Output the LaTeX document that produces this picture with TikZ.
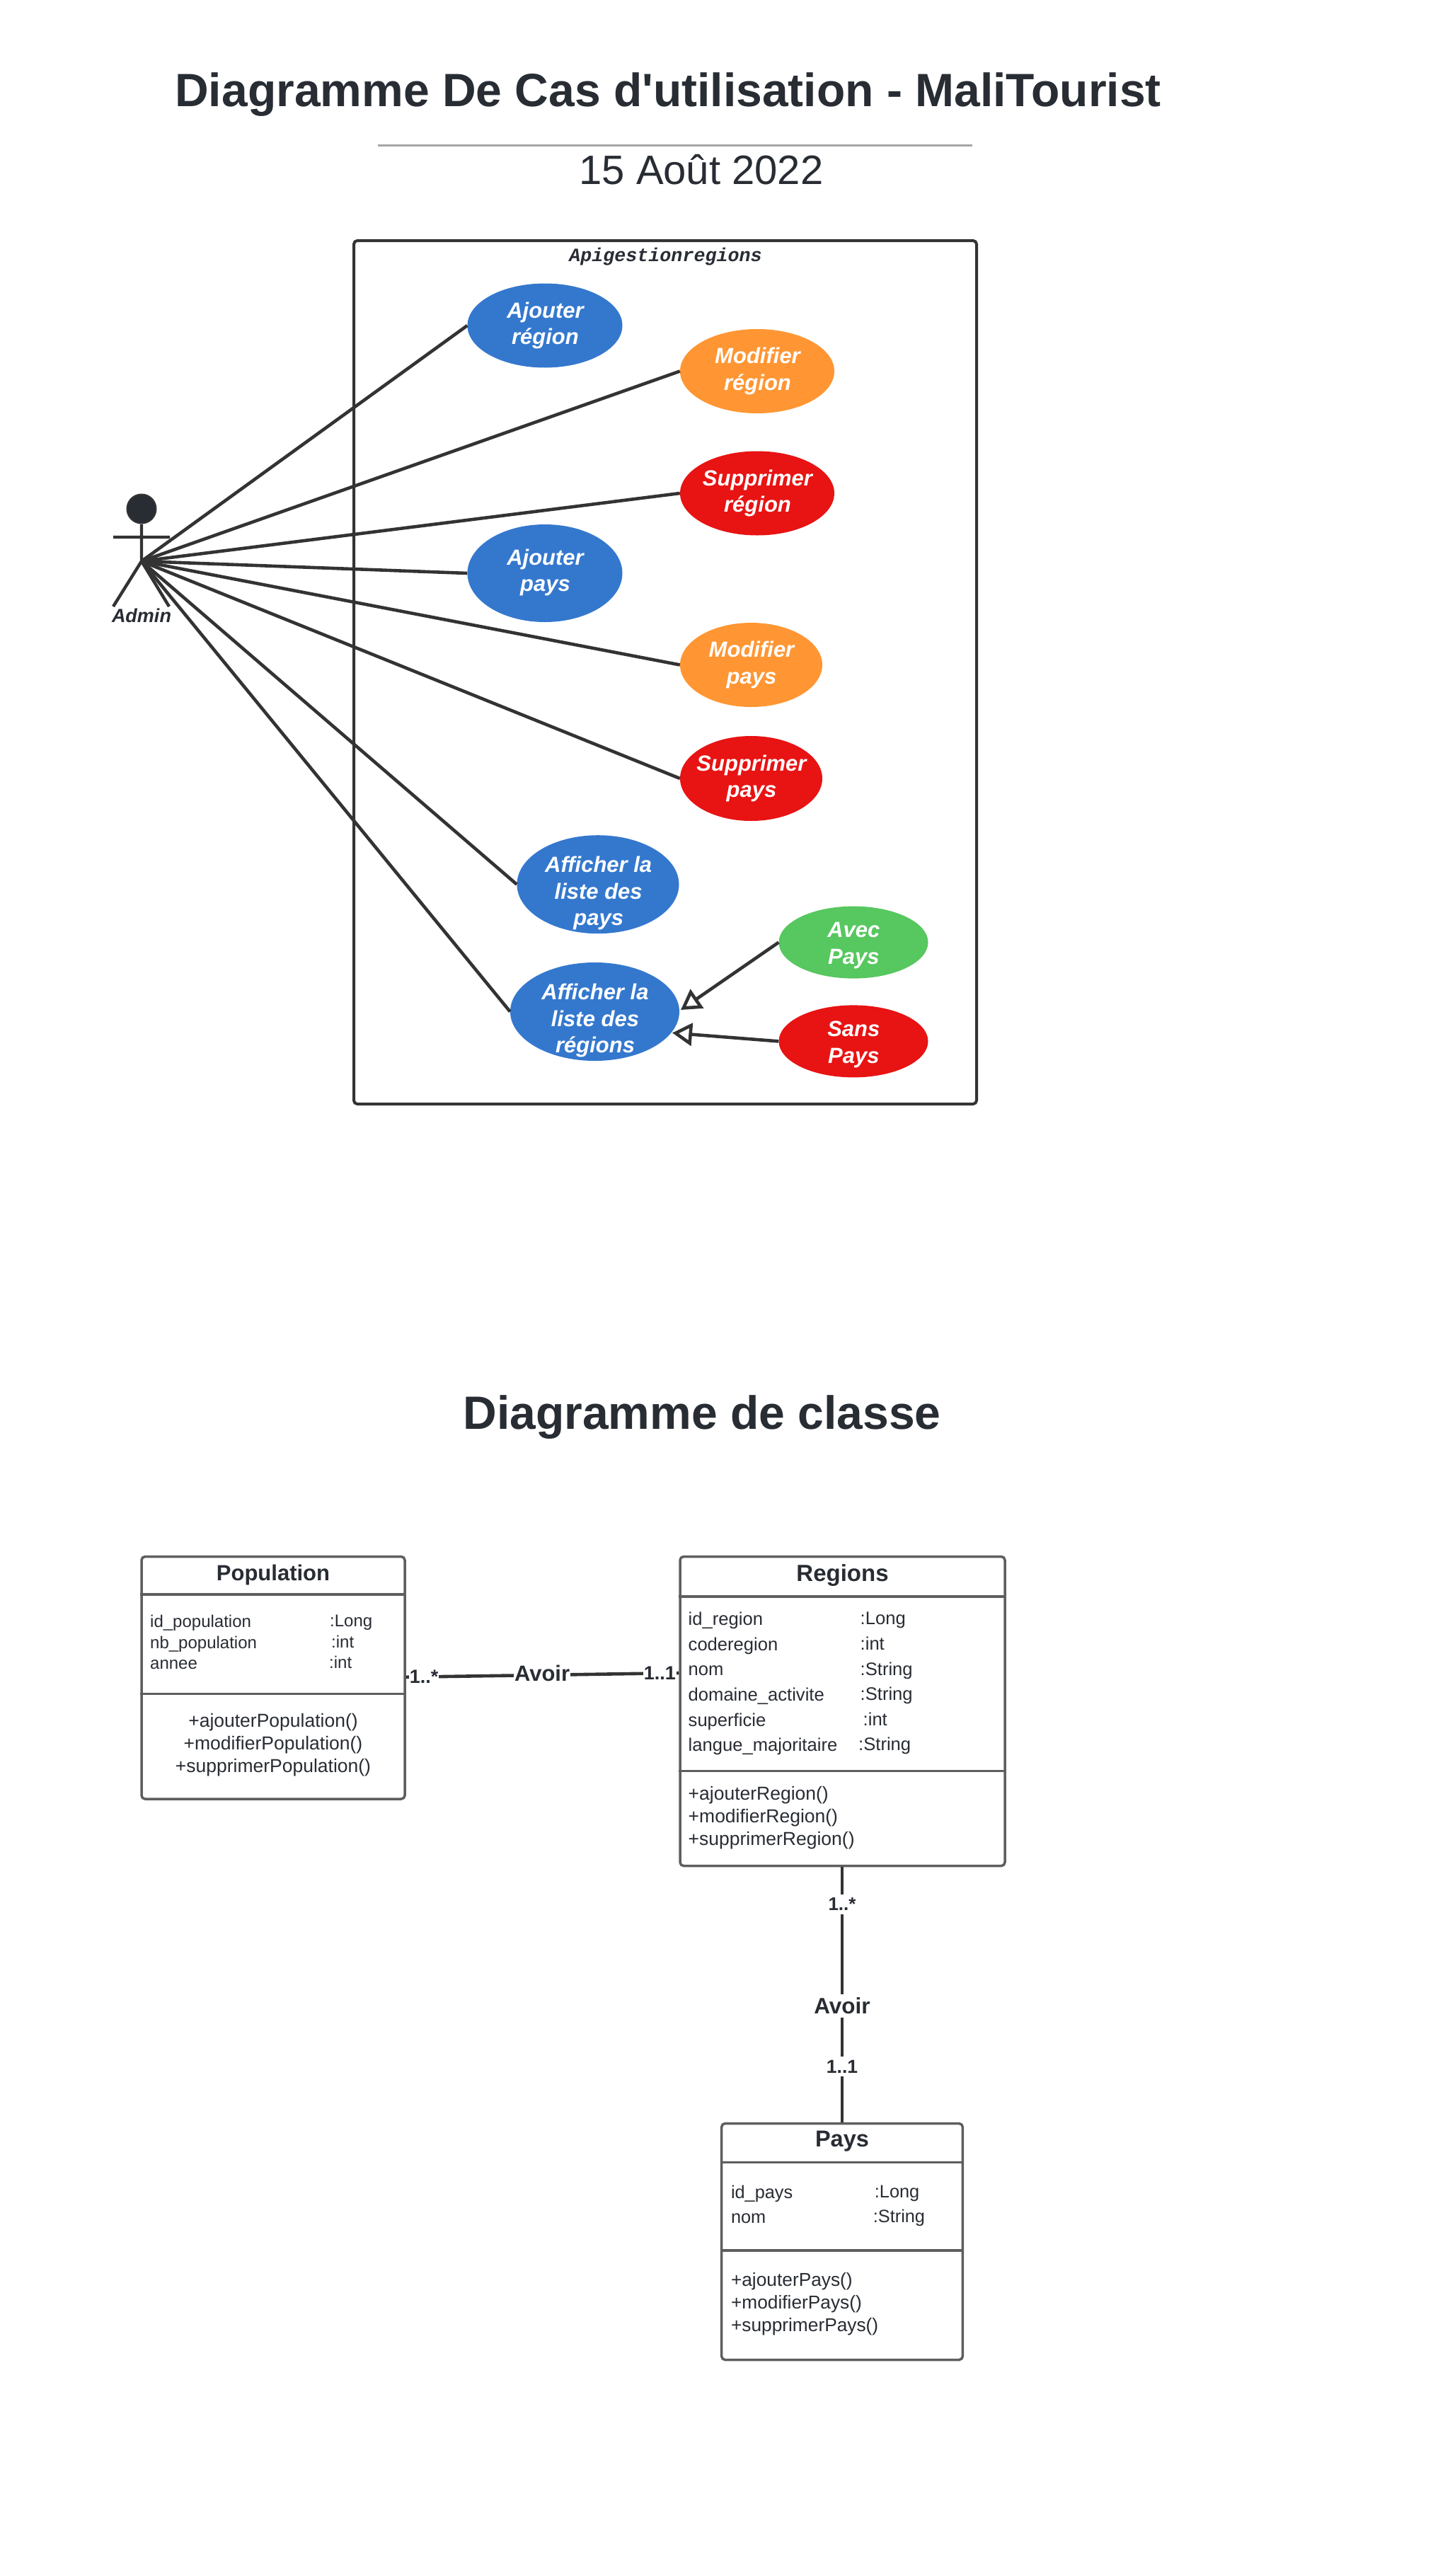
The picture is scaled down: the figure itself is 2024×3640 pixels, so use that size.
\documentclass[tikz,border=0pt]{standalone}
\usepackage{fontspec}
\setmainfont{Liberation Sans}
\setmonofont{Liberation Mono}
\newfontfamily\titrefont{Liberation Sans}
\usetikzlibrary{arrows.meta,shapes.geometric}
\definecolor{encre}{HTML}{282C33}
\definecolor{trait}{HTML}{333333}
\definecolor{bord}{HTML}{5E5E5E}
\definecolor{casebleu}{HTML}{3478CE}
\definecolor{caseorange}{HTML}{FF9633}
\definecolor{caserouge}{HTML}{E81313}
\definecolor{casevert}{HTML}{57C75F}
\tikzset{
	titre/.style={anchor=base,inner sep=0pt,text=encre,font=\titrefont\bfseries\fontsize{66}{70}\selectfont},
	usecase/.style n args={3}{ellipse,inner sep=0pt,fill=#3,minimum width=#1pt,minimum height=#2pt},
	casetext/.style={align=center,inner sep=0pt,text=white,font=\bfseries\itshape\fontsize{31}{37.5}\selectfont},
	lien/.style={draw=trait,line width=4.6pt},
	herite/.style={lien,-{Triangle[open,length=28pt,width=32pt,line width=4.6pt]}},
	classbox/.style={draw=bord,line width=3.5pt,rounded corners=5pt,fill=white,inner sep=0pt},
	classtitle/.style={inner sep=0pt,text=encre,font=\bfseries\fontsize{32}{36}\selectfont},
	classtext/.style={anchor=north west,align=left,inner sep=0pt,text=encre},
	assoc/.style={fill=white,inner xsep=1pt,inner ysep=5pt,text=encre,font=\bfseries\fontsize{27}{30}\selectfont},
}
\begin{document}
\begin{tikzpicture}[x=1pt,y=-1pt]
	\useasboundingbox (0,0) rectangle (2024,3640);
	% titre
	\node [titre] (titrecas) at (944,150) {Diagramme De Cas d'utilisation - MaliTourist};
	\draw [draw=gray!70,line width=3pt] (534,205) -- (1374,205);
	\node [anchor=base,inner sep=0pt,text=encre,font=\fontsize{58}{60}\selectfont] (date) at (991,260) {15 Août 2022};
	% systeme
	\node [draw=trait,line width=4pt,rounded corners=5pt,minimum width=880pt,minimum height=1220pt,inner sep=0pt] (systeme) at (940,950) {};
	\node [inner sep=0pt,text=encre,font=\ttfamily\bfseries\itshape\fontsize{26.7}{30}\selectfont] (nomsys) at (940.5,363) {Apigestionregions};
	% acteur
	\node [circle,draw=trait,line width=2pt,fill=encre,minimum size=41pt,inner sep=0pt] (tete) at (200,719) {};
	\coordinate (bassin) at (200,793);
	\coordinate (brasg) at (160,759);
	\coordinate (brasd) at (240,759);
	\coordinate (piedg) at (160,857);
	\coordinate (piedd) at (239,857);
	\draw [draw=trait,line width=4.4pt] (tete) -- (bassin) -- (piedg) (bassin) -- (piedd) (brasg) -- (brasd);
	\node [inner sep=0pt,text=encre,font=\bfseries\itshape\fontsize{27}{30}\selectfont] (admin) at (200,870) {Admin};
	% cas d'utilisation
	\node [usecase={219}{119}{casebleu}] (ajreg) at (770,460) {};
	\node [usecase={218}{119}{caseorange}] (modreg) at (1070,524.5) {};
	\node [usecase={218}{119}{caserouge}] (supreg) at (1070,697) {};
	\node [usecase={219}{138}{casebleu}] (ajpays) at (770,810) {};
	\node [usecase={201}{119}{caseorange}] (modpays) at (1061.5,939.5) {};
	\node [usecase={201}{120}{caserouge}] (suppays) at (1061.5,1100) {};
	\node [usecase={229}{139}{casebleu}] (affpays) at (845,1249.7) {};
	\node [usecase={239}{139}{casebleu}] (affreg) at (840.5,1429.5) {};
	\node [usecase={211}{102}{casevert}] (avec) at (1206,1331.6) {};
	\node [usecase={211}{102}{caserouge}] (sans) at (1206,1471.4) {};
	\node [casetext] (tajreg) at (770.5,460) {Ajouter\\région};
	\node [casetext] (tmodreg) at (1070.5,524.5) {Modifier\\région};
	\node [casetext] (tsupreg) at (1070.5,697) {Supprimer\\région};
	\node [casetext] (tajpays) at (770.5,809) {Ajouter\\pays};
	\node [casetext] (tmodpays) at (1062,939.5) {Modifier\\pays};
	\node [casetext] (tsuppays) at (1062,1100) {Supprimer\\pays};
	\node [casetext] (taffpays) at (845.7,1262) {Afficher la\\liste des\\pays};
	\node [casetext] (taffreg) at (841,1442) {Afficher la\\liste des\\régions};
	\node [casetext] (tavec) at (1206.3,1336) {Avec\\Pays};
	\node [casetext] (tsans) at (1206.3,1476) {Sans\\Pays};
	\foreach \cas in {ajreg,modreg,supreg,ajpays,modpays,suppays,affpays,affreg}
		\draw [lien] (bassin) -- (\cas.west);
	\coordinate (pointeavec) at (962,1427);
	\coordinate (pointesans) at (950,1459.5);
	\path [herite] (avec.west) -- (pointeavec);
	\path [herite] (sans.west) -- (pointesans);
	% titre classes
	\node [titre] (titreclasse) at (992,2019) {Diagramme de classe};
	% Population
	\node [classbox,minimum width=372pt,minimum height=342.5pt] (population) at (386,2370.75) {};
	\draw [draw=bord,line width=3.5pt] (population.west |- 0,2253) -- (population.east |- 0,2253);
	\draw [draw=bord,line width=3.5pt] (population.west |- 0,2393.5) -- (population.east |- 0,2393.5);
	\node [classtitle,font=\bfseries\fontsize{31}{36}\selectfont] (poptitre) at (386,2225) {Population};
	\node [classtext,font=\fontsize{24}{29.4}\selectfont] (popattr) at (212,2282) {id\_population\\nb\_population\\annee};
	\node [classtext,font=\fontsize{24}{29.4}\selectfont] (poptype) at (466,2282) {:Long\\\hspace*{2pt}:int\\\hspace*{-1pt}:int};
	\node [align=center,inner sep=0pt,text=encre,font=\fontsize{26.5}{32}\selectfont] (popmeth) at (386,2466) {+ajouterPopulation()\\+modifierPopulation()\\+supprimerPopulation()};
	% Regions
	\node [classbox,minimum width=459pt,minimum height=437pt] (regions) at (1190.5,2418) {};
	\draw [draw=bord,line width=3.5pt] (regions.west |- 0,2256) -- (regions.east |- 0,2256);
	\draw [draw=bord,line width=3.5pt] (regions.west |- 0,2502.6) -- (regions.east |- 0,2502.6);
	\node [classtitle,font=\bfseries\fontsize{33}{36}\selectfont] (regtitre) at (1190.5,2226) {Regions};
	\node [classtext,font=\fontsize{25.6}{35.6}\selectfont] (regattr) at (972.5,2278) {id\_region\\coderegion\\nom\\domaine\_activite\\superficie\\langue\_majoritaire};
	\node [classtext,font=\fontsize{25.6}{35.6}\selectfont] (regtype) at (1215.5,2278) {:Long\\:int\\:String\\:String\\\hspace*{4pt}:int\\\hspace*{-2.5pt}:String};
	\node [classtext,font=\fontsize{26.5}{32}\selectfont] (regmeth) at (972.5,2524) {+ajouterRegion()\\+modifierRegion()\\+supprimerRegion()};
	% Pays
	\node [classbox,minimum width=340.6pt,minimum height=334pt] (pays) at (1190,3167.5) {};
	\draw [draw=bord,line width=3.5pt] (pays.west |- 0,3055.6) -- (pays.east |- 0,3055.6);
	\draw [draw=bord,line width=3.5pt] (pays.west |- 0,3180) -- (pays.east |- 0,3180);
	\node [classtitle,font=\bfseries\fontsize{32.5}{36}\selectfont] (paystitre) at (1190,3025.5) {Pays};
	\node [classtext,font=\fontsize{25.3}{35.2}\selectfont] (paysattr) at (1032.8,3088) {id\_pays\\nom};
	\node [classtext,font=\fontsize{25.3}{35.2}\selectfont] (paystype) at (1233.7,3088) {\hspace*{2pt}:Long\\:String};
	\node [classtext,font=\fontsize{26.3}{32.1}\selectfont] (paysmeth) at (1032.8,3211) {+ajouterPays()\\+modifierPays()\\+supprimerPays()};
	% associations
	\draw [lien] (population.east |- 0,2369.8) -- node [pos=.066,assoc] (multa) {1..*} node [pos=.499,assoc,yshift=3pt,font=\bfseries\fontsize{31}{34}\selectfont] (avoira) {Avoir} node [pos=.93,assoc] (multb) {1..1} (regions.west |- 0,2364);
	\draw [lien] (regions.south -| pays.north) -- node [pos=.146,assoc,font=\bfseries\fontsize{26}{28}\selectfont] (multc) {1..*} node [pos=.5435,assoc,font=\bfseries\fontsize{31.5}{32}\selectfont] (avoirb) {Avoir} node [pos=.782,assoc,font=\bfseries\fontsize{26.5}{30}\selectfont] (multd) {1..1} (pays.north);
\end{tikzpicture}
\end{document}
